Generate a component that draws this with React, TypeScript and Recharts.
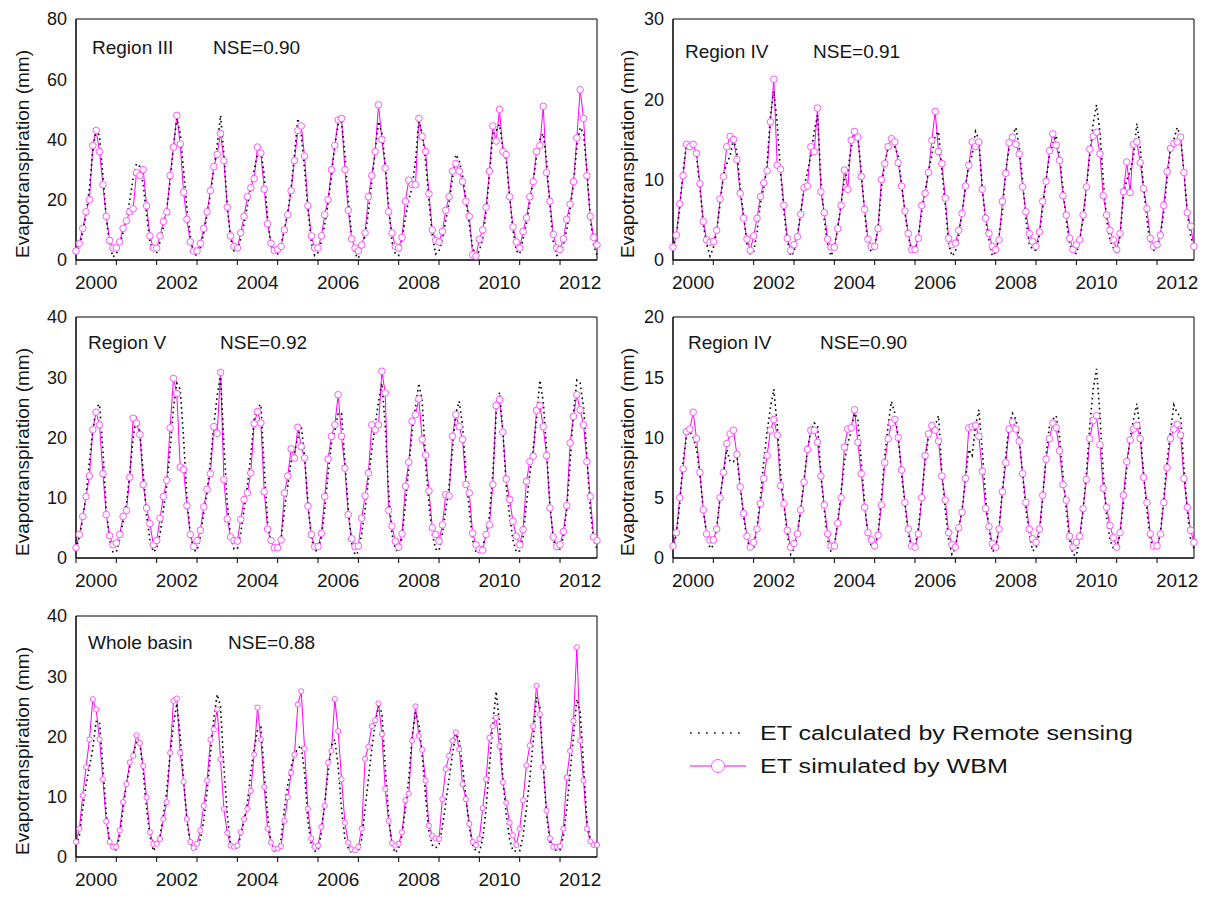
import React from 'react';
import { LineChart, Line, XAxis, YAxis, ReferenceArea, Legend } from 'recharts';

// x axis: month index 0..155 (Jan 2000 .. Dec 2012)
const yearBounds = [0, 12, 24, 36, 48, 60, 72, 84, 96, 108, 120, 132, 144];
const labelPos = [6, 30, 54, 78, 102, 126, 150];
const yearLabels = ['2000', '2002', '2004', '2006', '2008', '2010', '2012'];

// Region III (one row per year, Jan..Dec)
const r3Rs = [
  [2, 4.5, 9, 15, 24, 36, 44, 41, 28, 14, 5, 1],
  [2, 5, 9, 13, 20, 27, 32, 31, 25, 15, 6, 3],
  [2.5, 6, 11, 17, 26, 38, 47, 42, 30, 17, 8, 2],
  [1.5, 4, 9, 15, 22, 30, 38, 48, 35, 18, 7, 3],
  [3, 7, 12, 18, 24, 30, 35, 36.5, 28, 14, 5, 2.5],
  [2, 5, 10, 16, 24, 35, 47, 42, 30, 17, 6, 1.5],
  [2.5, 6, 12, 19, 28, 38, 45, 46, 35, 20, 8, 2],
  [0.5, 4, 8, 16, 26, 36, 46, 42, 32, 18, 6, 2],
  [1.5, 7, 14, 20, 24, 33, 46, 42, 33, 20, 8, 2],
  [3, 7, 13, 19, 27, 35, 33, 28, 20, 12, 4, 1.5],
  [3, 7, 16, 28, 42, 43, 45, 37, 33, 21, 10, 3],
  [2, 7, 12, 19, 26, 34, 40, 42, 33, 18, 6, 1.5],
  [2, 5, 10, 17, 25, 38, 44, 42, 30, 14, 5, 1.5],
];
const r3Wbm = [
  [3, 5.5, 10.5, 16, 20, 38, 43, 36, 25, 14.5, 6.5, 4],
  [4, 6, 10.5, 13, 16, 17, 29, 28, 30, 18, 8, 4],
  [3.9, 8, 12.8, 16, 28, 37.5, 48, 38.5, 22.5, 13.5, 6, 3],
  [3, 5.5, 10.5, 16, 23, 31, 35, 42, 33, 17.5, 8, 4.5],
  [4, 9, 14.5, 21, 24, 27, 37.5, 35.5, 23.5, 12, 5.5, 3.2],
  [3.5, 4.5, 10, 15, 23, 33, 43, 44.5, 34.5, 18, 8, 4],
  [4, 8, 15, 20, 30, 38, 46.5, 47, 30, 16.5, 7, 4],
  [3, 5, 9, 21, 28, 36, 51.5, 40, 30.5, 16, 9, 4.5],
  [4, 7.5, 19.5, 26.5, 25, 25, 47, 41, 36, 22, 10, 6.5],
  [6, 9.5, 16.5, 21, 29.5, 32, 29.5, 26, 19.5, 14.5, 1.7, 1.3],
  [6.9, 10, 17.5, 29.5, 44.5, 39.5, 50, 36, 35, 21, 11, 6],
  [4, 9.5, 14, 21, 26, 36, 38, 51, 29, 19.5, 8.5, 4],
  [3.5, 7, 13.5, 18.5, 26, 40.5, 56.5, 47, 28, 14.5, 7.5, 5],
];
const r3Ticks = [0, 20, 40, 60, 80];

// Region IV (upper)
const r4aRs = [
  [1.5, 3, 6.5, 11, 14.5, 14.5, 14.5, 13, 9, 4.5, 2, 0.5],
  [1.5, 3.5, 7, 10.5, 12, 13, 15, 13.5, 9, 5.5, 2, 0.8],
  [1, 3.5, 7, 9, 12, 18, 21, 17, 11, 6, 2.5, 0.5],
  [1, 3, 6, 9, 11, 13, 16, 18, 10, 5, 2, 0.5],
  [1.5, 4, 7, 10, 11, 14, 15.5, 15.5, 11, 6, 2, 1],
  [1.5, 4, 9, 12, 14, 15, 14, 13, 9.5, 6, 3, 1],
  [1.2, 3, 6, 8.5, 11, 13, 15.5, 16, 11, 7, 2, 0.5],
  [1, 3, 6, 9, 12, 13, 16, 15, 9, 5, 2.5, 0.5],
  [1, 3, 6, 11, 14, 15.5, 16.5, 14, 10, 5, 2, 1.3],
  [1.2, 3, 6.5, 10, 13, 14.5, 15.5, 13, 9, 5, 2, 0.8],
  [0.8, 2.5, 5, 9, 13, 17, 19.3, 16, 10, 5, 2.5, 1.5],
  [1, 3, 8, 10, 11, 13, 17, 14, 9, 5, 2, 1.2],
  [1.5, 3, 6, 10, 14, 15, 16.5, 15.5, 11, 6, 3, 1.5],
];
const r4aWbm = [
  [1.6, 3.1, 7, 10.5, 14.4, 14.1, 14.4, 13.3, 9.5, 4.8, 2.5, 2.2],
  [2.3, 3.7, 7.6, 10.4, 14.1, 15.4, 15, 12.5, 8.3, 5.2, 2.6, 1.2],
  [3, 5.2, 7.9, 9.6, 11.1, 17.2, 22.5, 11.8, 11.3, 6.8, 2.7, 1.2],
  [1.9, 2.9, 5.7, 9, 9.2, 14.1, 13.5, 18.9, 8.5, 5.9, 2.6, 1.6],
  [1.6, 3.9, 6.8, 11.2, 8.8, 14.9, 16, 15.3, 10.4, 6.3, 2.6, 1.7],
  [1.7, 3.9, 10, 12, 14.1, 15.1, 14.7, 12.1, 9.2, 6.1, 3.3, 1.3],
  [1.3, 2.7, 6.8, 8.3, 10.9, 14.9, 18.5, 13.5, 12, 7.7, 2.7, 1.9],
  [2.1, 3.7, 5.8, 9.2, 11.8, 14.7, 14.1, 14.7, 8.8, 5.2, 3.3, 1.7],
  [1.3, 2.5, 7.3, 10.8, 14.6, 15.3, 14.4, 13.2, 9.1, 6, 3.3, 2.3],
  [1.7, 3.5, 7.3, 9.8, 13.6, 15.7, 14.3, 12.4, 8, 5.6, 2.7, 1.3],
  [1.9, 2.5, 5.6, 9.1, 13.8, 15.4, 15.9, 13.2, 8, 5.6, 3.7, 2.5],
  [1.3, 3.3, 8.5, 12.2, 8.4, 14.4, 14.7, 12.1, 8.9, 6.4, 2.7, 1.7],
  [1.9, 3.1, 6.8, 11, 13.9, 14.5, 14.7, 15.3, 10.9, 5.9, 4.2, 1.7],
];
const r4aTicks = [0, 10, 20, 30];

// Region V
const r5Rs = [
  [1.5, 3.5, 6.5, 10.5, 16, 21, 25, 25.5, 18, 8, 3, 1],
  [1, 3, 6, 9, 14, 20, 23.5, 21, 14, 7, 3, 1],
  [1.5, 4, 8, 12, 18, 25, 29, 28, 20, 10, 4, 1.2],
  [1.2, 3.5, 7.5, 11, 16, 22, 27, 30.5, 19, 9, 3.5, 1.5],
  [1.5, 4, 8, 12, 17, 23, 25, 25.5, 15, 6, 2.5, 1.5],
  [1.5, 3, 8, 12, 16, 17.5, 20, 22, 17, 9, 3.5, 1.2],
  [1.2, 3.5, 8, 14, 19, 21, 24, 24, 16, 8, 2.5, 0.5],
  [1, 4, 8, 13, 18, 22, 26, 29, 22, 11, 4, 1.5],
  [1, 3.5, 9, 15, 21, 25, 29, 26, 16, 9, 4, 1.5],
  [1.2, 4, 8, 12, 18, 24, 26, 22, 14, 8, 3, 1],
  [1, 2, 4, 7, 14, 24, 27.5, 21, 12, 7, 3, 1],
  [1.2, 3.5, 9, 14, 18, 23, 29.5, 26, 18, 9, 3, 1.5],
  [1.5, 3.5, 8, 16, 24, 29.5, 29, 25, 17, 8, 3, 1.5],
];
const r5Wbm = [
  [1.7, 3.9, 6.9, 10.2, 13.6, 21.3, 24.2, 22.1, 14, 7.2, 3.7, 2.2],
  [2.5, 3.9, 6.9, 7.9, 13.4, 23.2, 22.4, 20.5, 12.2, 8.3, 5.7, 2.2],
  [2.9, 6.6, 10.2, 12.9, 21.6, 29.8, 27.3, 15.1, 14.7, 8.7, 3.9, 1.9],
  [2.9, 4.6, 8.5, 11.4, 14, 21.8, 20.7, 30.8, 13, 6.5, 3.5, 2.9],
  [2.8, 6.4, 9.7, 10.8, 14.1, 22.3, 24.3, 22.4, 11, 4.8, 2.9, 1.7],
  [1.7, 3, 10.8, 13.6, 18.1, 16.6, 21.7, 18.5, 16.6, 8.6, 3.9, 1.9],
  [1.9, 4.1, 10.2, 16.4, 20.2, 22.1, 27.1, 20.2, 14.9, 7.2, 3.2, 1.9],
  [2, 6.6, 10.3, 14.1, 22.1, 21.3, 22.1, 31, 27.4, 7.9, 5.3, 2.8],
  [1.8, 4, 11.9, 15.9, 22.7, 23.8, 26.4, 19.7, 17.1, 11.1, 5, 3.9],
  [2.8, 5.5, 10.5, 10.3, 20.2, 23.8, 21.8, 19.7, 12.2, 10.8, 4.1, 2.2],
  [1.4, 1.3, 3.9, 5.5, 12.2, 25.3, 26.3, 20.9, 13.1, 9.7, 6.1, 3.6],
  [2.2, 4.7, 12.7, 16, 16.9, 24.5, 25.3, 21.8, 17, 8.3, 3.5, 1.9],
  [2.2, 4.4, 8.7, 19.1, 23.5, 27.1, 24.6, 22.1, 16, 10.2, 3.5, 2.9],
];
const r5Ticks = [0, 10, 20, 30, 40];

// Region IV (lower)
const r4bRs = [
  [0.8, 2, 4.5, 8, 10, 10.5, 10, 9, 7, 4, 2, 0.8],
  [1, 2.5, 5, 7, 9, 8, 8, 8.5, 6, 3.5, 1.5, 0.8],
  [0.8, 2.5, 5, 8, 10.5, 12.5, 14, 11, 7, 4.5, 2, 0.3],
  [0.8, 2, 4, 6.5, 9, 10.5, 11.2, 11, 7, 4, 1.5, 0.5],
  [1, 3, 5.5, 8, 9.5, 10.5, 12, 11.5, 8, 4.5, 2, 1],
  [0.8, 2, 5, 8.5, 11, 13, 12, 10, 7, 4.5, 2, 0.8],
  [0.8, 2.5, 5, 8, 10, 10.5, 11, 11.8, 7, 4, 1.5, 0.3],
  [0.8, 2.5, 4, 6.5, 9, 8.5, 11, 12.3, 9, 5, 2.5, 0.5],
  [0.8, 2.5, 5.5, 8.5, 11, 12, 11.5, 10, 7, 4, 2, 0.6],
  [0.8, 2, 5, 8.5, 11, 11.5, 11.8, 10, 7, 4, 1.5, 0.3],
  [0.2, 1.5, 4, 7, 11, 14, 15.7, 12, 7, 3.5, 1.5, 0.8],
  [0.8, 2, 4.5, 7.5, 10, 11.5, 12.8, 10.5, 7, 4, 1.5, 0.8],
  [0.8, 2, 5, 8, 10.5, 12.7, 12, 11.8, 7.5, 4, 1.5, 0.8],
];
const r4bWbm = [
  [1, 2.1, 5, 7.4, 10.5, 10.7, 12.1, 9.9, 7.1, 4, 2, 1.5],
  [1.5, 2.4, 5, 7.1, 9.5, 10.3, 10.6, 8.6, 5.9, 3.7, 1.8, 0.9],
  [1.3, 2.4, 4.5, 6.6, 8.5, 10.6, 11.5, 10.2, 6, 4.5, 2.3, 0.9],
  [1.2, 2, 4, 6.3, 9, 10.6, 10.6, 9.6, 6.8, 4.4, 2, 1],
  [1, 2.9, 5, 9.2, 10.7, 10.8, 12.3, 9.6, 7, 4.2, 2.1, 1.5],
  [1, 1.9, 4.4, 7.9, 9.9, 11.2, 11.5, 10, 7.3, 4.6, 2.4, 1],
  [0.9, 2, 5, 8.5, 10.3, 11, 10.6, 9.7, 6.8, 4.8, 2.1, 1.1],
  [0.9, 2.5, 3.8, 6.6, 10.8, 10.9, 11, 10.1, 7.2, 4.1, 2.6, 1.2],
  [0.9, 2.4, 5.5, 7.9, 10.7, 11.3, 10.7, 9.7, 7, 4.6, 2.4, 1.6],
  [1.3, 2.4, 5.2, 8.2, 9.9, 11.2, 10.8, 8.9, 6.1, 4.8, 1.8, 0.9],
  [1.3, 1.8, 4.1, 6.5, 9.9, 11.4, 11.8, 9.4, 5.8, 4.2, 2.7, 1.7],
  [0.9, 2.1, 5.2, 8, 9.8, 10.7, 11, 9.9, 6.7, 4.6, 2, 1],
  [1, 2, 4.6, 7.5, 9.9, 10.7, 11.1, 10.2, 6.6, 4.2, 2.3, 1.3],
];
const r4bTicks = [0, 5, 10, 15, 20];

// Whole basin
const basinRs = [
  [2, 3.5, 8, 12, 15, 18, 22.5, 22.5, 15, 7, 2.5, 1.2],
  [1.2, 3.5, 8, 12, 15, 17, 19, 19, 14, 8, 3.5, 1],
  [2, 3.5, 7, 11, 17, 22, 25.5, 20, 13, 6, 2.5, 1],
  [1.5, 3, 6, 11, 17, 23, 27, 25, 15, 7, 2, 1.5],
  [1.5, 3.5, 6, 9, 14, 18, 21, 21.5, 14, 7, 2.5, 1],
  [1, 3, 8, 12, 15, 17, 18, 18.5, 14, 6, 2, 1],
  [1, 4, 9, 14, 18.5, 19.5, 15, 8, 3, 1.5, 0.7, 1],
  [1, 3, 8, 13, 18, 22, 25, 24, 15, 7, 2, 0.7],
  [1.5, 3.5, 8, 13, 20, 24, 22, 17, 10, 4, 2, 1.5],
  [2, 5, 9, 13, 17, 20.5, 19.5, 15, 10, 5, 2, 1],
  [0.8, 3, 8, 15, 22, 27.5, 22, 13, 7, 3, 1, 1],
  [1, 3.5, 8, 13, 19, 26.5, 25, 15, 7, 2.5, 1.5, 1],
  [1.2, 3.5, 8, 14, 20, 26.2, 24, 15, 6, 3, 2, 2],
];
const basinWbm = [
  [2.5, 4.7, 10.2, 14.9, 19.5, 26.2, 24.5, 19.5, 12.9, 5.9, 2.5, 1.7],
  [1.7, 4.4, 9.1, 12.1, 15.7, 16.8, 20.2, 18.9, 15.1, 9.9, 4.1, 2.2],
  [2.2, 3, 6.3, 9.1, 17.3, 25.9, 26.3, 17.3, 12.5, 6.3, 2.5, 1.5],
  [2.2, 4.4, 8.5, 12.7, 19.5, 21.2, 24.5, 16.2, 8, 4, 1.9, 1.7],
  [1.9, 4.1, 6.3, 8, 11, 17, 24.8, 19.5, 11.6, 4.7, 2.4, 1.4],
  [1.4, 1.8, 6, 9.9, 14, 17, 25.3, 27.5, 18, 8, 3.1, 1.7],
  [1.9, 5, 8.5, 15.7, 17.6, 26.2, 20.9, 12.9, 5.7, 2.4, 1.3, 1.1],
  [1.7, 4.7, 16.3, 18.3, 21.7, 22.7, 25.5, 20.4, 11.3, 6, 2.3, 1.9],
  [2.2, 4.1, 9.4, 10.5, 19.3, 25, 20.1, 17.8, 12.7, 5.2, 3.5, 3.1],
  [3, 9.6, 14.6, 16.8, 19.3, 20.7, 17.9, 12.1, 9.6, 5.5, 2.5, 2],
  [3, 8.1, 12.9, 19.8, 21.7, 23.1, 18.4, 12.4, 9, 5.7, 3.6, 2],
  [4.7, 9.4, 15.2, 18.5, 21.7, 28.4, 23.7, 14.9, 7.7, 3.1, 1.7, 1.7],
  [1.8, 4.7, 13.2, 17.6, 22.6, 34.8, 19.3, 12.7, 4.7, 2.6, 2, 2],
];
const basinTicks = [0, 10, 20, 30, 40];

const FONT = '"Liberation Sans", Arial, sans-serif';
const INK = '#151515';
const MAGENTA = '#ff00ff';

const renderYearTick = (props: any) => {
  const { x, y, payload } = props;
  const v = payload.value;
  const li = labelPos.indexOf(v);
  return (
    <g>
      {yearBounds.includes(v) && <line x1={x} x2={x} y1={y} y2={y + 5} stroke="#000" />}
      {li >= 0 && (
        <text x={x} y={y + 29} textAnchor="middle" fontSize={19} fontFamily={FONT} fill={INK}>
          {yearLabels[li]}
        </text>
      )}
    </g>
  );
};

const renderLegend = () => (
  <svg width={480} height={60} style={{ overflow: 'visible' }}>
    <line x1={5} x2={55} y1={10} y2={10} stroke="#000" strokeWidth={1.6} strokeDasharray="1.6 6.4" />
    <text x={75} y={17} fontSize={20} fontFamily={FONT} fill={INK} textLength={373} lengthAdjust="spacingAndGlyphs">
      ET calculated by Remote sensing
    </text>
    <line x1={5} x2={61} y1={43} y2={43} stroke={MAGENTA} strokeWidth={1} />
    <circle cx={33} cy={43} r={6.5} fill="#fff" stroke="#ff55ff" strokeWidth={1} />
    <text x={75} y={50} fontSize={20} fontFamily={FONT} fill={INK} textLength={248} lengthAdjust="spacingAndGlyphs">
      ET simulated by WBM
    </text>
  </svg>
);

type PanelProps = {
  name: string;
  nse: string;
  rs: number[][];
  wbm: number[][];
  yTicks: number[];
  left: number;
  top: number;
  dotR: number;
  nameDx: number;
  nseDx: number;
  textDy: number;
  titleX: number;
  legend?: boolean;
};

const PLOT_W = 521;
const PLOT_H = 241;
const X_AXIS_H = 40;
const CHART_H = 19 + PLOT_H + X_AXIS_H;

const Panel: React.FC<PanelProps> = ({
  name, nse, rs, wbm, yTicks, left, top, dotR, nameDx, nseDx, textDy, titleX, legend,
}) => {
  const rsFlat = rs.flat();
  const wbmFlat = wbm.flat();
  const data = rsFlat.map((v, i) => ({ i, rs: v, wbm: wbmFlat[i] }));
  const yMax = yTicks[yTicks.length - 1];
  const width = legend ? 1214 : 612;
  const rightMargin = width - 76 - PLOT_W;
  const textStyle: React.CSSProperties = {
    position: 'absolute', fontFamily: FONT, fontSize: 19, color: INK, lineHeight: '22px', whiteSpace: 'nowrap',
  };
  return (
    <div style={{ position: 'absolute', left, top, width, height: CHART_H }}>
      <LineChart width={width} height={CHART_H} data={data} margin={{ top: 19, right: rightMargin, bottom: 0, left: 20 }}>
        <XAxis
          dataKey="i"
          type="number"
          domain={[0, 155]}
          ticks={[...yearBounds, ...labelPos].sort((a, b) => a - b)}
          interval={0}
          tickLine={false}
          tickSize={0}
          tickMargin={0}
          height={X_AXIS_H}
          axisLine={{ stroke: '#000' }}
          tick={renderYearTick}
        />
        <YAxis
          type="number"
          domain={[0, yMax]}
          ticks={yTicks}
          interval={0}
          width={56}
          tickLine={false}
          tickSize={0}
          tickMargin={9}
          axisLine={{ stroke: '#000' }}
          tick={{ fontSize: 18, fill: INK, fontFamily: FONT }}
        />
        <ReferenceArea x1={0} x2={155} y1={0} y2={yMax} fill="none" fillOpacity={0} stroke="#000" strokeWidth={1} />
        <Line
          type="linear"
          dataKey="wbm"
          stroke={MAGENTA}
          strokeWidth={1}
          dot={{ r: dotR, fill: '#fff', stroke: '#ff55ff', strokeWidth: 1 }}
          activeDot={false}
          isAnimationActive={false}
        />
        <Line
          type="linear"
          dataKey="rs"
          stroke="#000"
          strokeWidth={1.6}
          strokeDasharray="1.6 3.4"
          dot={false}
          activeDot={false}
          isAnimationActive={false}
        />
        {legend && (
          <Legend
            layout="horizontal"
            verticalAlign="middle"
            align="center"
            content={renderLegend}
            wrapperStyle={{ left: 685, top: 126, width: 480, height: 60 }}
          />
        )}
      </LineChart>
      <div style={{ ...textStyle, left: 76 + nameDx, top: 19 + textDy - 11 }}>{name}</div>
      <div style={{ ...textStyle, left: 76 + nseDx, top: 19 + textDy - 11 }}>{nse}</div>
      <div
        style={{
          ...textStyle,
          left: titleX - 130,
          top: 19 + PLOT_H / 2 + 14 - 11,
          width: 260,
          textAlign: 'center',
          transform: 'rotate(-90deg)',
        }}
      >
        Evapotranspiration (mm)
      </div>
    </div>
  );
};

export default function App() {
  return (
    <div style={{ position: 'absolute', left: 0, top: 0, width: 1214, height: 897, background: '#fff', overflow: 'hidden' }}>
      <Panel name="Region III" nse="NSE=0.90" rs={r3Rs} wbm={r3Wbm} yTicks={r3Ticks}
        left={0} top={0} dotR={3.3} nameDx={16} nseDx={137} textDy={29} titleX={22.5} />
      <Panel name="Region IV" nse="NSE=0.91" rs={r4aRs} wbm={r4aWbm} yTicks={r4aTicks}
        left={597} top={0} dotR={3.3} nameDx={12} nseDx={140} textDy={33} titleX={31} />
      <Panel name="Region V" nse="NSE=0.92" rs={r5Rs} wbm={r5Wbm} yTicks={r5Ticks}
        left={0} top={298} dotR={3.3} nameDx={12} nseDx={144} textDy={26} titleX={22.5} />
      <Panel name="Region IV" nse="NSE=0.90" rs={r4bRs} wbm={r4bWbm} yTicks={r4bTicks}
        left={597} top={298} dotR={3.3} nameDx={15} nseDx={147} textDy={26} titleX={31} />
      <Panel name="Whole basin" nse="NSE=0.88" rs={basinRs} wbm={basinWbm} yTicks={basinTicks}
        left={0} top={597} dotR={2.6} nameDx={12} nseDx={152} textDy={27} titleX={22.5} legend />
    </div>
  );
}
